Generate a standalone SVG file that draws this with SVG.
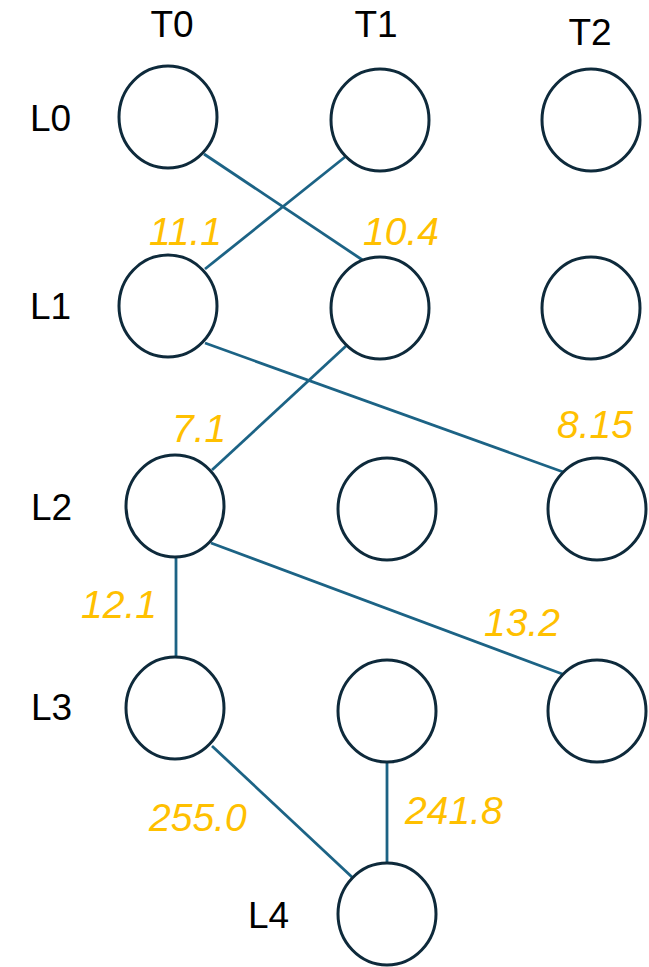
<svg xmlns="http://www.w3.org/2000/svg" width="649" height="967" viewBox="0 0 649 967">
<style>
.n{fill:#ffffff;stroke:#0e2a3b;stroke-width:3}
.c{stroke:#1c6385;stroke-width:2.8;fill:none}
.t{font-family:"Liberation Sans",Arial,sans-serif;font-size:37px;fill:#000}
.v{font-family:"Liberation Sans",Arial,sans-serif;font-size:39px;font-style:italic;fill:#ffc000}
</style>
<rect width="649" height="967" fill="#ffffff"/>
<g id="connectors">
<line class="c" x1="204" y1="154" x2="364" y2="261"/>
<line class="c" x1="345" y1="157" x2="205" y2="269"/>
<line class="c" x1="205" y1="343" x2="566" y2="473"/>
<line class="c" x1="346" y1="346" x2="212" y2="470"/>
<line class="c" x1="176" y1="556" x2="176" y2="658"/>
<line class="c" x1="211" y1="543" x2="565" y2="675"/>
<line class="c" x1="212" y1="746" x2="353" y2="878"/>
<line class="c" x1="387" y1="762" x2="387" y2="863"/>
</g>
<g id="headers">
<text class="t" x="172" y="37" text-anchor="middle">T0</text>
<text class="t" x="376" y="37" text-anchor="middle">T1</text>
<text class="t" x="590" y="45" text-anchor="middle">T2</text>
<text class="t" x="30" y="131">L0</text>
<text class="t" x="30" y="319">L1</text>
<text class="t" x="31" y="520">L2</text>
<text class="t" x="31" y="720">L3</text>
<text class="t" x="248" y="928">L4</text>
</g>
<g id="n-L0-T0"><ellipse class="n" cx="168" cy="117" rx="49" ry="51"/></g>
<g id="n-L0-T1"><ellipse class="n" cx="380" cy="120" rx="49" ry="51"/></g>
<g id="n-L0-T2"><ellipse class="n" cx="591" cy="120" rx="49" ry="51"/></g>
<g id="n-L1-T0"><ellipse class="n" cx="168" cy="306" rx="49" ry="51"/></g>
<g id="n-L1-T1"><ellipse class="n" cx="380" cy="308" rx="49" ry="51"/></g>
<g id="n-L1-T2"><ellipse class="n" cx="591" cy="308" rx="49" ry="51"/></g>
<g id="n-L2-T0"><ellipse class="n" cx="175" cy="506" rx="49" ry="51"/></g>
<g id="n-L2-T1"><ellipse class="n" cx="387" cy="509" rx="49" ry="51"/></g>
<g id="n-L2-T2"><ellipse class="n" cx="597" cy="509" rx="49" ry="51"/></g>
<g id="n-L3-T0"><ellipse class="n" cx="175" cy="708" rx="49" ry="51"/></g>
<g id="n-L3-T1"><ellipse class="n" cx="387" cy="711" rx="49" ry="51"/></g>
<g id="n-L3-T2"><ellipse class="n" cx="597" cy="711" rx="49" ry="51"/></g>
<g id="n-L4-T1"><ellipse class="n" cx="387" cy="914" rx="49" ry="51"/></g>
<g id="labels">
<text class="v" x="149" y="245">11.1</text>
<text class="v" x="363" y="245">10.4</text>
<text class="v" x="172" y="442">7.1</text>
<text class="v" x="557" y="438">8.15</text>
<text class="v" x="81" y="618">12.1</text>
<text class="v" x="484" y="636">13.2</text>
<text class="v" x="149" y="831">255.0</text>
<text class="v" x="405" y="824">241.8</text>
</g>
</svg>
